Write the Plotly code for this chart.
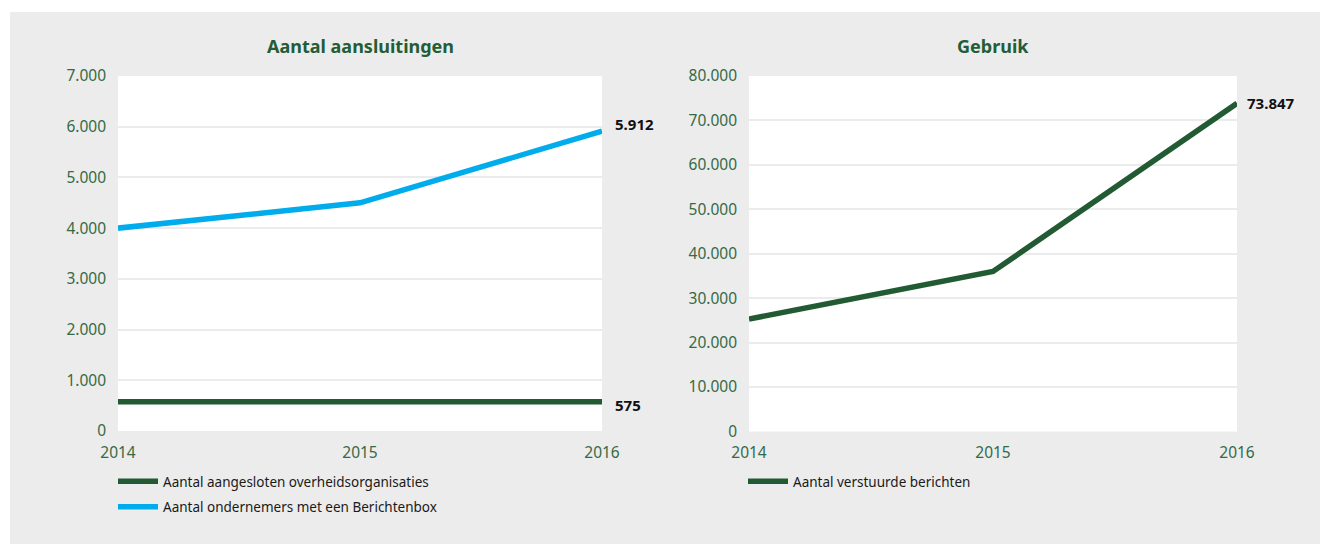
import plotly.graph_objects as go

# ---- data ----
years = [2014, 2015, 2016]
overheid = [575, 575, 575]
ondernemers = [4000, 4500, 5912]
berichten = [25300, 36000, 73847]

name_overheid = "Aantal aangesloten overheidsorganisaties"
name_ondernemers = "Aantal ondernemers met een Berichtenbox"
name_berichten = "Aantal verstuurde berichten"
title_left = "Aantal aansluitingen"
title_right = "Gebruik"

# ---- style ----
OFF = 8  # page body margin in the browser
W, H = 1328 - OFF, 544 - OFF
DARK = "#215a33"
BLUE = "#00acec"
TITLE_GREEN = "#245c35"
TICK_GREEN = "#356a45"
GRID = "#ebebeb"
PANEL = "#ececec"
FONT = "Noto Sans"


def px(x):
    return (x - OFF) / W


def py(y):
    return 1 - (y - OFF) / H


fig = go.Figure()
fig.add_trace(go.Scatter(x=years, y=overheid, mode="lines", name=name_overheid,
                         line=dict(color=DARK, width=5.5), cliponaxis=False,
                         legendgroup="a", xaxis="x", yaxis="y", legend="legend"))
fig.add_trace(go.Scatter(x=years, y=ondernemers, mode="lines", name=name_ondernemers,
                         line=dict(color=BLUE, width=5.5), cliponaxis=False,
                         legendgroup="b", xaxis="x", yaxis="y", legend="legend"))
fig.add_trace(go.Scatter(x=years, y=berichten, mode="lines", name=name_berichten,
                         line=dict(color=DARK, width=5.5), cliponaxis=False,
                         legendgroup="c", xaxis="x2", yaxis="y2", legend="legend2"))

tickfont = dict(family=FONT, size=15.5, color=TICK_GREEN)
xcommon = dict(range=[2014, 2016], tickvals=years, showgrid=False, zeroline=False,
               showline=False, ticks="", tickfont=tickfont, ticklabelstandoff=10,
               automargin=False, fixedrange=True)
ycommon = dict(showgrid=True, gridcolor=GRID, gridwidth=2, zeroline=False,
               showline=False, ticks="", tickfont=tickfont, tickformat=",d",
               ticklabelstandoff=11, automargin=False, fixedrange=True)

legfont = dict(family=FONT, size=13.5, color="#1a1a1a")
fig.update_layout(
    width=W, height=H,
    margin=dict(l=0, r=0, t=0, b=0),
    template="none",
    separators=",.",
    paper_bgcolor=PANEL,
    plot_bgcolor="white",
    font=dict(family=FONT, color="#1a1a1a"),
    xaxis=dict(domain=[px(118), px(602)], anchor="y", **xcommon),
    yaxis=dict(domain=[py(431), py(76)], anchor="x", range=[0, 7000], dtick=1000, **ycommon),
    xaxis2=dict(domain=[px(749), px(1237)], anchor="y2", **xcommon),
    yaxis2=dict(domain=[py(431.5), py(76)], anchor="x2", range=[0, 80000], dtick=10000, **ycommon),
    legend=dict(x=px(113), y=py(466), xanchor="left", yanchor="top",
                bgcolor="rgba(0,0,0,0)", font=legfont, tracegroupgap=5, itemwidth=40,
                itemclick=False, itemdoubleclick=False),
    legend2=dict(x=px(743), y=py(466), xanchor="left", yanchor="top",
                 bgcolor="rgba(0,0,0,0)", font=legfont, tracegroupgap=5, itemwidth=40,
                 itemclick=False, itemdoubleclick=False),
    showlegend=True,
    shapes=[
        dict(type="rect", xref="paper", yref="paper", x0=0, x1=px(10), y0=0, y1=1,
             fillcolor="white", line=dict(width=0), layer="below"),
        dict(type="rect", xref="paper", yref="paper", x0=0, x1=1, y0=py(12), y1=1,
             fillcolor="white", line=dict(width=0), layer="below"),
    ],
)

titlefont = dict(family=FONT, size=18, color=TITLE_GREEN, weight="bold")
valfont = dict(family=FONT, size=15, color="#111111", weight="bold")
fig.add_annotation(text=title_left, xref="paper", yref="paper", x=px(360), y=py(46),
                   xanchor="center", yanchor="middle", showarrow=False, font=titlefont)
fig.add_annotation(text=title_right, xref="paper", yref="paper", x=px(993), y=py(46),
                   xanchor="center", yanchor="middle", showarrow=False, font=titlefont)

fig.add_annotation(text=f"{ondernemers[-1]:,}".replace(",", "."), xref="x", yref="y",
                   x=years[-1], y=ondernemers[-1], xanchor="left", yanchor="middle",
                   xshift=11, yshift=7, showarrow=False, font=valfont)
fig.add_annotation(text=f"{overheid[-1]:,}".replace(",", "."), xref="x", yref="y",
                   x=years[-1], y=overheid[-1], xanchor="left", yanchor="middle",
                   xshift=11, yshift=-3, showarrow=False, font=valfont)
fig.add_annotation(text=f"{berichten[-1]:,}".replace(",", "."), xref="x2", yref="y2",
                   x=years[-1], y=berichten[-1], xanchor="left", yanchor="middle",
                   xshift=8, yshift=0, showarrow=False, font=valfont)

fig.write_html("out.html", config={"displayModeBar": False})
